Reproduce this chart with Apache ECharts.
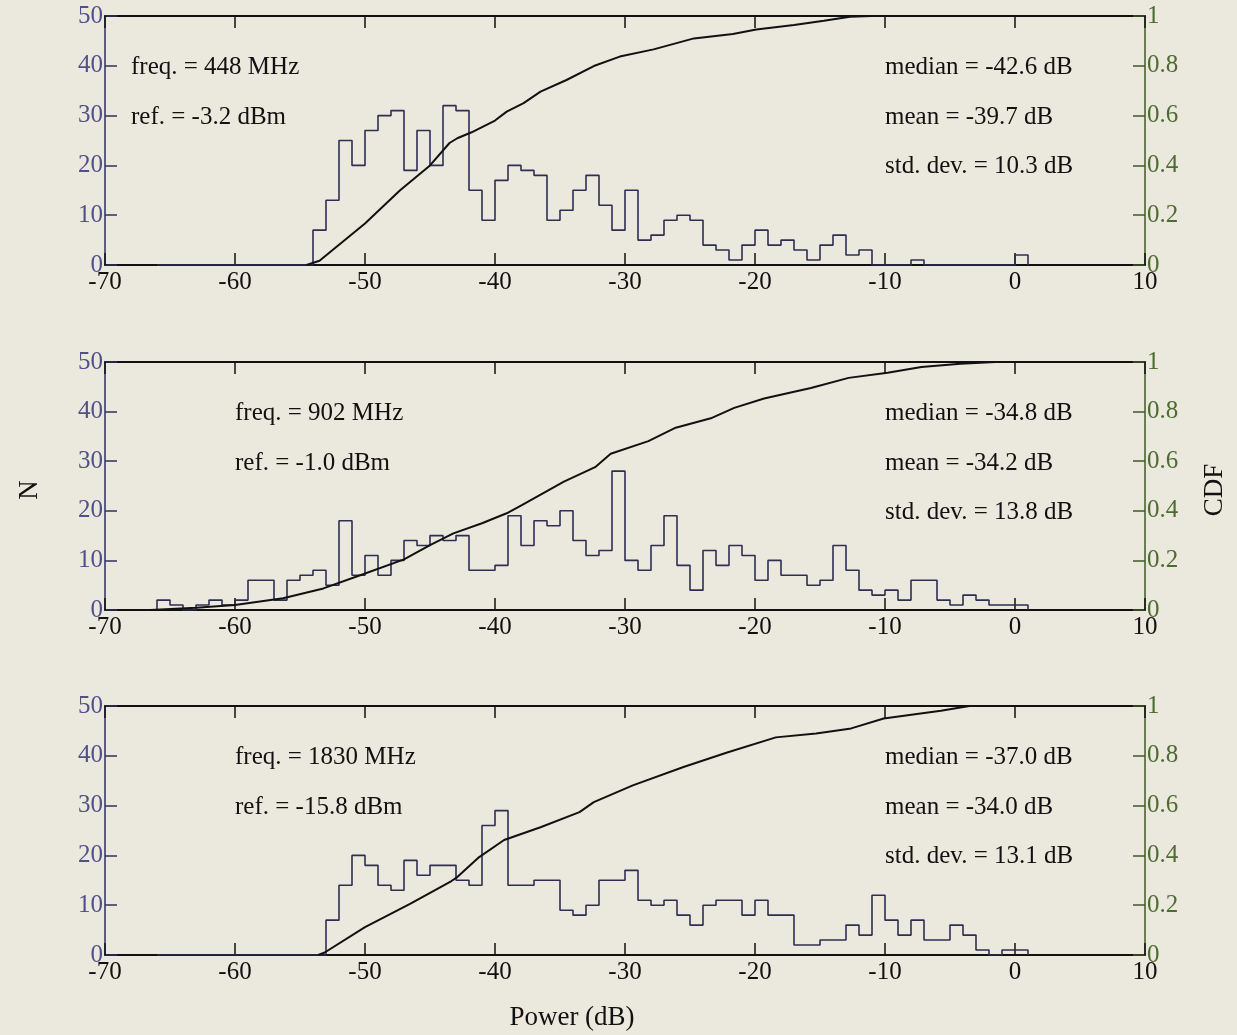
<!DOCTYPE html>
<html><head><meta charset="utf-8">
<script src="https://cdn.jsdelivr.net/npm/echarts@6/dist/echarts.min.js"></script>
<style>html,body{margin:0;padding:0;background:#ebe8dd}#c{width:1237px;height:1035px}</style>
</head><body><div id="c"></div><script>
// Bin left edges (dB), 1 dB wide bins
const powerBins = [-66,-65,-64,-63,-62,-61,-60,-59,-58,-57,-56,-55,-54,-53,-52,-51,-50,-49,-48,-47,-46,-45,-44,-43,-42,-41,-40,-39,-38,-37,-36,-35,-34,-33,-32,-31,-30,-29,-28,-27,-26,-25,-24,-23,-22,-21,-20,-19,-18,-17,-16,-15,-14,-13,-12,-11,-10,-9,-8,-7,-6,-5,-4,-3,-2,-1,0];
const lastBinEdge = 1;
const counts448 = [0,0,0,0,0,0,0,0,0,0,0,0,
  7,13,25,20,27,30,31,19,27,20,32,31,15,9,17,20,19,18,9,11,15,18,12,7,15,5,6,9,10,9,4,3,1,4,7,4,5,3,1,4,6,2,3,0,0,0,1,0,0,0,0,0,0,0,2];
const counts902 = [2,1,0,1,2,1,2,6,6,2,6,7,8,5,18,7,11,7,10,14,13,15,14,15,8,8,9,19,13,18,17,20,14,11,12,28,10,8,13,19,9,4,12,9,13,11,6,10,7,7,5,6,13,8,4,3,4,2,6,6,2,1,3,2,1,1,1];
const counts1830 = [0,0,0,0,0,0,0,0,0,0,0,0,0,
  7,14,20,18,14,13,19,16,18,18,15,14,26,29,14,14,15,15,9,8,10,15,15,17,11,10,11,8,6,10,11,11,8,11,8,8,2,2,3,3,6,4,12,7,4,7,3,3,6,4,1,0,1,1];
// CDF curves [power dB, CDF]
const cdf448 = [[-54.5,0],[-53.5,0.017],[-50,0.167],[-47.3,0.30],[-45,0.40],[-43.5,0.49],[-42.9,0.509],[-41.8,0.533],[-40,0.58],[-39.1,0.616],[-37.8,0.65],[-36.5,0.696],[-34.5,0.743],[-32.4,0.799],[-30.4,0.837],[-27.8,0.866],[-24.7,0.91],[-21.7,0.928],[-19.9,0.946],[-17,0.964],[-14.7,0.981],[-12.7,0.997],[-11,1],[1,1]];
const cdf902 = [[-66.5,0],[-63,0.009],[-60,0.02],[-56.3,0.047],[-53.2,0.087],[-50.1,0.145],[-47,0.204],[-45,0.262],[-43.2,0.309],[-41,0.35],[-39.1,0.39],[-37.9,0.424],[-34.7,0.518],[-32.3,0.576],[-31.1,0.63],[-28.2,0.681],[-26.1,0.735],[-23.4,0.773],[-21.6,0.815],[-19.3,0.853],[-15.7,0.895],[-12.8,0.936],[-9.8,0.957],[-7.2,0.98],[-4.2,0.993],[-1.5,1],[1,1]];
const cdf1830 = [[-53.6,0],[-53.1,0.01],[-50,0.112],[-46.5,0.206],[-43.35,0.297],[-42.9,0.313],[-41.3,0.39],[-39.3,0.462],[-36.5,0.513],[-33.5,0.574],[-32.4,0.614],[-29.4,0.681],[-25.5,0.755],[-22.2,0.812],[-18.4,0.874],[-15.3,0.89],[-12.6,0.91],[-10.1,0.95],[-5.7,0.981],[-3.5,1],[1,1]];
const xTicks = {min:-70, max:10, interval:10};
const nTicks = {min:0, max:50, interval:10};
const cdfTicks = {min:0, max:1, interval:0.2};
const freqLabels = ['freq. = 448 MHz','freq. = 902 MHz','freq. = 1830 MHz'];
const refLabels = ['ref. = -3.2 dBm','ref. = -1.0 dBm','ref. = -15.8 dBm'];
const medianLabels = ['median = -42.6 dB','median = -34.8 dB','median = -37.0 dB'];
const meanLabels = ['mean = -39.7 dB','mean = -34.2 dB','mean = -34.0 dB'];
const stdLabels = ['std. dev. = 10.3 dB','std. dev. = 13.8 dB','std. dev. = 13.1 dB'];
const xLabel = 'Power (dB)', nLabel = 'N', cdfLabel = 'CDF';

const allCounts = [counts448, counts902, counts1830];
const allCdf = [cdf448, cdf902, cdf1830];

const FONT = 'Liberation Serif';
const gridTops = [16, 362, 706];
const gridH = [249, 248, 249];
const leftTextX = [131, 235, 235];
const grids = [], xAxes = [], yAxes = [], series = [], graphics = [];
for (let i = 0; i < 3; i++) {
  grids.push({left:105, top:gridTops[i], width:1040, height:gridH[i]});
  const xBase = {gridIndex:i, type:'value', min:xTicks.min, max:xTicks.max, interval:xTicks.interval, splitLine:{show:false},
    axisLine:{show:true, onZero:false, lineStyle:{color:'#111', width:2}},
    axisTick:{show:true, inside:true, length:12, lineStyle:{color:'#111', width:1.5}}};
  xAxes.push(Object.assign({}, xBase, {position:'bottom',
    axisLabel:{show:true, fontFamily:FONT, fontSize:25, color:'#111', margin:5}}));
  xAxes.push(Object.assign({}, xBase, {position:'top', axisLabel:{show:false}}));
  yAxes.push({gridIndex:i, type:'value', position:'left', min:nTicks.min, max:nTicks.max, interval:nTicks.interval, splitLine:{show:false},
    axisLine:{show:true, onZero:false, lineStyle:{color:'#2f2f5c', width:1.5}},
    axisTick:{show:true, inside:true, length:12, lineStyle:{color:'#2f2f5c', width:1.5}},
    axisLabel:{fontFamily:FONT, fontSize:25, color:'#50508a', margin:2}});
  yAxes.push({gridIndex:i, type:'value', position:'right', min:cdfTicks.min, max:cdfTicks.max, interval:cdfTicks.interval, splitLine:{show:false},
    axisLine:{show:true, onZero:false, lineStyle:{color:'#3f5a24', width:1.5}},
    axisTick:{show:true, inside:true, length:12, lineStyle:{color:'#3f5a24', width:1.5}},
    axisLabel:{fontFamily:FONT, fontSize:25, color:'#4e6b30', margin:2}});
  const counts = allCounts[i];
  const hist = [[powerBins[0], 0]].concat(powerBins.map((b, k) => [b, counts[k]])).concat([[lastBinEdge, 0]]);
  series.push({type:'line', xAxisIndex:2*i, yAxisIndex:2*i, step:'end', data:hist, symbol:'none', silent:true,
    lineStyle:{color:'#2e2e52', width:1.6}, z:3});
  series.push({type:'line', xAxisIndex:2*i, yAxisIndex:2*i+1, data:allCdf[i], symbol:'none', silent:true,
    lineStyle:{color:'#111', width:2}, z:4});
  const t = gridTops[i];
  const font = '25px "Liberation Serif"';
  graphics.push({type:'text', x:leftTextX[i], y:t+51, style:{text:freqLabels[i], font:font, fill:'#111', verticalAlign:'middle'}});
  graphics.push({type:'text', x:leftTextX[i], y:t+101, style:{text:refLabels[i], font:font, fill:'#111', verticalAlign:'middle'}});
  graphics.push({type:'text', x:885, y:t+51, style:{text:medianLabels[i], font:font, fill:'#111', verticalAlign:'middle'}});
  graphics.push({type:'text', x:885, y:t+101, style:{text:meanLabels[i], font:font, fill:'#111', verticalAlign:'middle'}});
  graphics.push({type:'text', x:885, y:t+150, style:{text:stdLabels[i], font:font, fill:'#111', verticalAlign:'middle'}});
}
graphics.push({type:'text', x:572, y:1018, style:{text:xLabel, font:'27px "Liberation Serif"', fill:'#111', align:'center', verticalAlign:'middle'}});
graphics.push({type:'text', x:30, y:490, rotation:Math.PI/2, style:{text:nLabel, font:'27px "Liberation Serif"', fill:'#111', align:'center', verticalAlign:'middle'}});
graphics.push({type:'text', x:1215, y:490, rotation:Math.PI/2, style:{text:cdfLabel, font:'27px "Liberation Serif"', fill:'#111', align:'center', verticalAlign:'middle'}});

const chart = echarts.init(document.getElementById('c'), null, {renderer:'canvas'});
chart.setOption({
  backgroundColor:'#ebe8dd', animation:false,
  grid:grids, xAxis:xAxes, yAxis:yAxes, series:series, graphic:graphics
});
</script></body></html>
